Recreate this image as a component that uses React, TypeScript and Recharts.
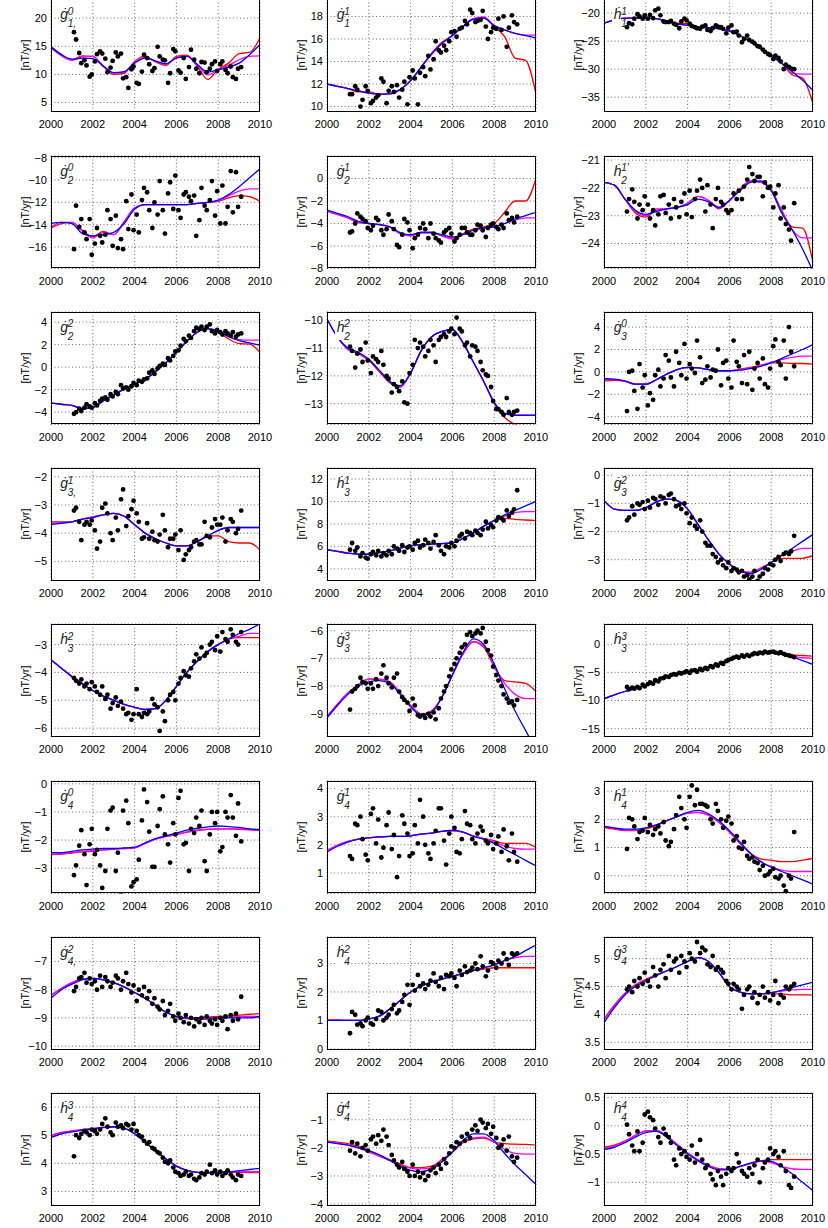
import React from "react";
import { CartesianGrid, ComposedChart, Line, Scatter, XAxis, YAxis } from "recharts";

// observation epochs (shared by every panel) and epochs of the fitted curves
const obsYears = [
  2001.1, 2001.2, 2001.35, 2001.45, 2001.6, 2001.7, 2001.85, 2001.95, 2002.1, 2002.2,
  2002.35, 2002.45, 2002.6, 2002.7, 2002.85, 2002.95, 2003.1, 2003.2, 2003.35, 2003.45,
  2003.6, 2003.7, 2003.85, 2003.95, 2004.1, 2004.2, 2004.35, 2004.45, 2004.6, 2004.7,
  2004.85, 2004.95, 2005.1, 2005.2, 2005.35, 2005.45, 2005.6, 2005.7, 2005.85, 2005.95,
  2006.1, 2006.2, 2006.35, 2006.45, 2006.6, 2006.7, 2006.85, 2006.95, 2007.1, 2007.2,
  2007.35, 2007.45, 2007.6, 2007.7, 2007.85, 2007.95, 2008.1, 2008.2, 2008.35, 2008.45,
  2008.6, 2008.7, 2008.85, 2008.95, 2009.1,
];
const fitYears = [
  2000, 2000.5, 2001, 2001.5, 2002, 2002.5, 2003, 2003.5, 2004, 2004.5, 2005,
  2005.5, 2006, 2006.5, 2007, 2007.5, 2008, 2008.5, 2009, 2009.5, 2010,
];
const yearTicks = [2000, 2002, 2004, 2006, 2008, 2010];

// g1^0
const g10Range = [3.4, 23.4];
const g10Ticks = [5, 10, 15, 20];
const g10Obs = [
  17.5, 16.2, 13.8, 12.0, 12.5, 11.6, 9.6, 10.0, 12.3, 13.6,
  14.1, 13.7, 12.8, 10.4, 11.2, 12.4, 13.9, 13.2, 13.7, 9.3,
  9.5, 7.6, 10.9, 11.4, 8.5, 8.3, 10.5, 13.5, 12.9, 11.8,
  10.6, 11.1, 14.9, 13.2, 12.6, 12.5, 8.5, 10.2, 14.5, 14.1,
  10.7, 10.3, 12.9, 9.2, 11.3, 14.4, 12.6, 11.0, 10.2, 12.2,
  12.1, 10.4, 11.0, 11.8, 12.3, 10.6, 11.8, 12.3, 10.8, 10.2,
  11.4, 9.5, 9.2, 11.0, 11.3,
];
const g10Red = [15.0, 13.5, 12.6, 13.3, 13.2, 11.4, 10.0, 10.2, 12.3, 13.3, 12.2, 11.6, 13.2, 13.4, 11.4, 9.1, 10.9, 12.0, 13.7, 13.9, 16.5];
const g10Magenta = [14.7, 13.3, 12.5, 13.1, 13.2, 11.5, 10.2, 10.4, 12.1, 13.0, 12.3, 11.8, 13.0, 13.3, 11.6, 9.9, 10.8, 11.6, 12.6, 13.2, 13.3];
const g10Blue = [14.8, 13.5, 12.7, 12.9, 12.8, 11.5, 10.3, 10.5, 12.0, 12.9, 12.4, 11.9, 12.9, 13.2, 11.8, 10.4, 10.8, 11.3, 12.0, 13.5, 15.3];

// g1^1
const g11Range = [9.56, 19.55];
const g11Ticks = [10, 12, 14, 16, 18];
const g11Obs = [
  11.1, 11.1, 11.8, 11.5, 10.0, 10.6, 11.8, 11.4, 10.3, 10.5,
  10.8, 11.0, 12.5, 12.2, 10.3, 11.4, 11.8, 11.3, 11.9, 10.8,
  11.5, 12.2, 10.2, 12.6, 13.2, 12.5, 10.2, 13.0, 13.5, 12.7,
  14.5, 13.3, 14.2, 15.8, 15.0, 14.8, 15.4, 15.0, 15.8, 16.6,
  16.7, 16.2, 16.9, 17.0, 17.6, 17.3, 18.6, 18.3, 17.5, 17.6,
  17.7, 18.5, 17.1, 16.0, 16.6, 17.0, 16.9, 17.8, 16.8, 18.0,
  15.3, 17.0, 18.1, 17.5, 17.3,
];
const g11Red = [12.0, 11.8, 11.6, 11.3, 11.3, 11.1, 11.1, 11.5, 12.3, 13.5, 14.7, 15.7, 16.3, 17.1, 17.8, 17.85, 17.1, 16.2, 14.3, 14.1, 11.1];
const g11Magenta = [12.0, 11.8, 11.6, 11.4, 11.2, 11.1, 11.15, 11.5, 12.3, 13.5, 14.6, 15.6, 16.3, 17.1, 17.8, 17.95, 17.2, 16.8, 16.5, 16.35, 16.35];
const g11Blue = [12.0, 11.8, 11.6, 11.4, 11.2, 11.1, 11.15, 11.5, 12.3, 13.5, 14.7, 15.6, 16.3, 17.1, 17.75, 17.85, 17.2, 16.8, 16.5, 16.3, 16.1];

// h1^1
const h11Range = [-37.56, -17.48];
const h11Ticks = [-35, -30, -25, -20];
const h11Obs = [
  -22.5, -21.8, -22.0, -21.0, -20.2, -20.6, -21.0, -20.4, -21.0, -20.3,
  -20.9, -19.5, -19.2, -20.4, -21.5, -21.6, -21.6, -21.4, -21.9, -22.1,
  -22.7, -21.5, -21.0, -21.3, -21.9, -22.3, -22.5, -22.7, -22.8, -22.4,
  -22.2, -23.0, -23.2, -22.7, -22.2, -22.4, -22.5, -22.8, -23.6, -22.6,
  -22.2, -23.4, -23.3, -24.0, -25.2, -24.6, -24.0, -24.8, -25.1, -25.4,
  -25.9, -26.0, -26.5, -26.9, -27.3, -27.5, -28.2, -27.6, -28.0, -28.6,
  -30.0, -29.2, -29.6, -29.9, -30.0,
];
const h11Red = [-21.8, -21.2, -20.9, -20.9, -20.9, -21.0, -21.4, -21.8, -21.9, -22.7, -22.6, -22.8, -23.1, -24.0, -25.1, -26.3, -27.5, -28.9, -31.0, -31.6, -36.2];
const h11Magenta = [-21.8, -21.2, -20.9, -20.9, -20.9, -21.0, -21.5, -21.9, -22.2, -22.5, -22.6, -22.8, -23.2, -24.0, -25.1, -26.3, -27.5, -28.9, -30.7, -30.9, -30.9];
const h11Blue = [-21.8, -21.2, -20.9, -20.9, -20.9, -21.0, -21.5, -21.9, -22.2, -22.5, -22.6, -22.8, -23.2, -24.0, -25.1, -26.3, -27.6, -29.0, -30.4, -32.0, -33.8];

// g2^0
const g20Range = [-17.93, -7.85];
const g20Ticks = [-16, -14, -12, -10, -8];
const g20Obs = [
  -16.2, -12.3, -14.2, -13.5, -14.7, -15.3, -13.5, -16.7, -15.7, -14.3,
  -15.0, -15.6, -14.9, -12.7, -13.5, -15.9, -13.2, -16.1, -15.3, -16.2,
  -11.9, -14.4, -11.3, -14.5, -13.1, -14.7, -11.8, -10.7, -11.1, -12.7,
  -14.3, -12.0, -13.1, -10.1, -12.7, -14.8, -11.2, -10.2, -12.6, -9.6,
  -12.7, -13.4, -11.3, -11.1, -11.5, -11.9, -11.4, -15.0, -13.6, -10.7,
  -12.3, -12.7, -11.8, -10.1, -13.2, -11.0, -13.9, -10.5, -13.9, -12.4,
  -9.2, -12.9, -9.3, -12.4, -11.5,
];
const g20Red = [-14.3, -13.9, -13.8, -14.5, -15.1, -14.6, -14.9, -13.8, -12.6, -12.2, -12.2, -12.2, -12.2, -12.2, -12.1, -12.0, -11.9, -11.6, -11.4, -11.5, -11.9];
const g20Magenta = [-14.2, -13.8, -13.8, -14.6, -15.2, -14.7, -14.9, -13.7, -12.5, -12.2, -12.2, -12.2, -12.2, -12.2, -12.1, -12.0, -11.9, -11.4, -11.0, -10.8, -10.8];
const g20Blue = [-13.9, -13.8, -13.9, -14.8, -15.0, -14.9, -14.7, -13.9, -12.6, -12.2, -12.2, -12.2, -12.2, -12.2, -12.1, -12.0, -11.8, -11.3, -10.6, -9.8, -9.0];

// g2^1
const g21Range = [-8, 2];
const g21Ticks = [-8, -6, -4, -2, 0];
const g21Obs = [
  -4.8, -4.7, -4.0, -3.1, -3.4, -3.6, -3.8, -4.4, -4.6, -4.2,
  -3.5, -3.7, -4.6, -5.0, -4.5, -3.2, -3.8, -4.5, -5.9, -6.1,
  -5.0, -3.6, -3.9, -4.6, -6.2, -5.3, -5.0, -4.4, -4.0, -4.5,
  -5.3, -4.0, -4.9, -5.3, -5.5, -5.7, -4.8, -4.6, -4.4, -4.9,
  -5.6, -5.3, -5.0, -4.4, -4.4, -4.8, -5.0, -5.0, -4.6, -4.1,
  -4.2, -4.6, -5.2, -4.4, -4.1, -4.0, -4.3, -4.5, -4.1, -4.4,
  -3.1, -3.7, -3.5, -3.9, -3.4,
];
const g21Red = [-2.9, -3.2, -3.5, -3.9, -4.0, -4.1, -4.3, -4.9, -5.1, -4.8, -4.8, -5.1, -5.3, -4.9, -4.5, -4.3, -4.0, -3.0, -2.0, -2.0, 0.0];
const g21Magenta = [-2.9, -3.2, -3.5, -3.9, -4.0, -4.1, -4.3, -4.9, -5.1, -4.8, -4.8, -5.1, -5.4, -5.0, -4.6, -4.4, -4.3, -4.0, -3.7, -3.5, -3.5];
const g21Blue = [-2.8, -3.1, -3.4, -3.8, -4.0, -4.1, -4.3, -4.8, -5.0, -4.8, -4.8, -5.0, -5.2, -5.0, -4.6, -4.4, -4.3, -4.0, -3.6, -3.3, -3.0];

// h2^1
const h21Range = [-24.9, -20.85];
const h21Ticks = [-24, -23, -22, -21];
const h21Obs = [
  -22.85, -22.4, -22.05, -22.5, -23.1, -22.6, -22.8, -22.3, -22.6, -23.1,
  -22.8, -23.35, -22.95, -22.3, -22.25, -22.9, -22.6, -23.1, -22.4, -22.7,
  -23.05, -22.5, -22.2, -22.95, -22.1, -23.05, -22.4, -22.1, -21.7, -22.0,
  -22.85, -21.9, -22.6, -23.45, -22.4, -22.0, -22.5, -22.6, -22.8, -22.9,
  -22.8, -22.2, -22.4, -22.1, -22.4, -21.95, -21.7, -21.25, -21.5, -21.75,
  -21.6, -21.6, -22.3, -21.8, -22.0, -21.95, -22.7, -22.2, -21.9, -23.1,
  -22.7, -23.3, -23.5, -23.9, -22.55,
];
const h21Red = [-21.8, -21.9, -22.4, -22.9, -23.05, -22.8, -22.75, -22.7, -22.55, -22.3, -22.45, -22.75, -22.45, -22.05, -21.75, -21.8, -22.05, -22.8, -23.4, -23.45, -24.7];
const h21Magenta = [-21.8, -21.9, -22.4, -22.85, -23.0, -22.75, -22.75, -22.7, -22.55, -22.3, -22.45, -22.7, -22.45, -22.05, -21.75, -21.8, -22.1, -22.85, -23.5, -23.8, -23.8];
const h21Blue = [-21.8, -21.9, -22.4, -22.8, -22.95, -22.85, -22.75, -22.7, -22.6, -22.4, -22.5, -22.7, -22.45, -22.1, -21.8, -21.75, -22.1, -22.9, -23.5, -24.2, -25.0];

// g2^2
const g22Range = [-5.1, 4.9];
const g22Ticks = [-4, -2, 0, 2, 4];
const g22Obs = [
  -4.15, -4.0, -3.7, -3.9, -3.6, -3.3, -3.5, -3.6, -3.2, -3.4,
  -3.0, -2.8, -2.7, -2.9, -2.4, -2.6, -2.2, -2.4, -1.6, -1.9,
  -1.8, -2.0, -1.7, -1.4, -1.6, -1.2, -1.3, -1.1, -1.0, -0.5,
  -0.3, -0.6, -0.1, 0.1, 0.3, 0.2, 0.8, 0.6, 1.0, 1.4,
  1.5, 1.9, 2.5, 2.3, 2.8, 2.6, 3.2, 3.5, 3.4, 3.6,
  3.3, 3.6, 3.8, 3.2, 3.0, 3.3, 3.1, 2.9, 3.2, 3.0,
  2.8, 3.1, 2.7, 2.9, 3.0,
];
const g22Red = [-3.2, -3.3, -3.4, -3.7, -3.6, -3.0, -2.45, -1.95, -1.5, -1.1, -0.4, 0.4, 1.3, 2.3, 3.1, 3.4, 3.1, 2.5, 2.1, 2.05, 1.3];
const g22Magenta = [-3.2, -3.3, -3.4, -3.7, -3.6, -3.0, -2.45, -1.95, -1.5, -1.1, -0.4, 0.4, 1.3, 2.3, 3.1, 3.45, 3.2, 2.7, 2.45, 2.4, 2.4];
const g22Blue = [-3.2, -3.3, -3.4, -3.7, -3.6, -3.0, -2.45, -1.95, -1.5, -1.1, -0.4, 0.4, 1.3, 2.3, 3.1, 3.4, 3.2, 2.7, 2.35, 2.15, 1.95];

// h2^2
const h22Range = [-13.75, -9.7];
const h22Ticks = [-13, -12, -11, -10];
const h22Obs = [
  -10.95, -11.1, -11.7, -11.2, -11.05, -11.5, -10.8, -11.45, -11.9, -11.3,
  -11.4, -11.5, -11.1, -11.6, -12.0, -12.1, -12.6, -12.3, -12.4, -12.55,
  -12.2, -12.95, -13.0, -11.9, -11.6, -10.7, -11.0, -10.8, -10.95, -11.3,
  -11.1, -10.7, -10.9, -11.5, -10.7, -10.6, -10.5, -10.6, -10.4, -10.3,
  -10.5, -9.9, -10.3, -10.4, -10.9, -10.8, -11.3, -10.9, -10.95, -11.1,
  -11.5, -11.8, -11.95, -12.0, -12.4, -12.9, -13.2, -13.2, -13.3, -13.4,
  -12.8, -13.3, -13.4, -13.3, -13.25,
];
const h22Red = [-9.95, -10.6, -11.05, -11.2, -11.45, -11.85, -12.25, -12.4, -11.9, -11.1, -10.6, -10.4, -10.35, -10.8, -11.5, -12.2, -13.0, -13.5, -13.75, -13.85, -13.9];
const h22Magenta = [-9.95, -10.6, -11.05, -11.2, -11.4, -11.8, -12.2, -12.4, -11.9, -11.1, -10.6, -10.4, -10.35, -10.8, -11.5, -12.2, -12.95, -13.35, -13.4, -13.4, -13.4];
const h22Blue = [-9.95, -10.6, -11.0, -11.15, -11.4, -11.8, -12.2, -12.35, -11.9, -11.1, -10.6, -10.4, -10.33, -10.8, -11.5, -12.2, -12.95, -13.35, -13.42, -13.42, -13.42];

// g3^0
const g30Range = [-4.7, 5.35];
const g30Ticks = [-4, -2, 0, 2, 4];
const g30Obs = [
  -3.5, 0.0, 0.1, -1.7, -3.3, 0.7, -1.4, -0.3, -3.0, -1.9,
  -2.5, -0.3, 0.2, -1.3, -0.6, 1.5, 1.0, -0.5, -1.3, 1.8,
  0.8, -0.3, 2.5, -0.6, 0.7, 0.3, -0.1, 2.8, 1.3, -1.0,
  -0.7, 0.5, -0.5, 0.2, 0.1, 2.0, -1.2, 0.8, 1.0, -0.6,
  -1.4, 2.8, 0.9, 0.5, -1.0, 1.5, -1.1, 1.8, -1.6, 0.3,
  0.8, -0.6, 1.2, -1.1, -1.4, 0.3, 2.3, 2.9, 0.9, 0.6,
  2.8, -0.6, 4.0, 1.8, 0.5,
];
const g30Red = [-0.8, -0.75, -0.85, -1.1, -1.1, -0.7, -0.2, 0.2, 0.4, 0.35, 0.2, 0.1, 0.1, 0.25, 0.4, 0.6, 0.8, 0.8, 0.75, 0.75, 0.7];
const g30Magenta = [-0.7, -0.7, -0.85, -1.1, -1.1, -0.7, -0.2, 0.2, 0.4, 0.35, 0.2, 0.1, 0.1, 0.2, 0.35, 0.55, 0.85, 1.1, 1.3, 1.4, 1.4];
const g30Blue = [-0.6, -0.65, -0.8, -1.1, -1.1, -0.7, -0.2, 0.2, 0.4, 0.35, 0.2, 0.1, 0.1, 0.15, 0.3, 0.5, 0.8, 1.2, 1.6, 2.0, 2.45];

// g3^1
const g31Range = [-5.68, -1.69];
const g31Ticks = [-5, -4, -3, -2];
const g31Obs = [
  -3.2, -3.1, -3.6, -4.25, -3.7, -3.6, -3.7, -3.55, -3.9, -4.55,
  -4.3, -3.1, -2.95, -3.3, -4.0, -4.25, -3.45, -3.9, -2.8, -2.45,
  -3.75, -3.4, -3.15, -2.85, -3.3, -3.6, -4.2, -4.15, -3.65, -4.2,
  -3.95, -4.25, -4.3, -4.05, -3.35, -3.9, -4.5, -4.2, -4.2, -4.05,
  -4.6, -3.9, -4.95, -4.75, -4.6, -4.5, -4.3, -4.25, -4.4, -4.4,
  -3.6, -4.1, -4.15, -3.8, -3.5, -3.7, -3.7, -3.45, -4.3, -3.9,
  -3.5, -3.6, -4.0, -3.85, -3.2,
];
const g31Red = [-3.6, -3.6, -3.6, -3.5, -3.42, -3.35, -3.3, -3.4, -3.7, -4.0, -4.2, -4.35, -4.45, -4.45, -4.3, -4.1, -4.1, -4.3, -4.35, -4.35, -4.6];
const g31Magenta = [-3.65, -3.63, -3.6, -3.5, -3.42, -3.35, -3.3, -3.4, -3.7, -4.0, -4.2, -4.35, -4.45, -4.45, -4.3, -4.1, -3.9, -3.8, -3.8, -3.8, -3.8];
const g31Blue = [-3.7, -3.65, -3.6, -3.5, -3.45, -3.35, -3.3, -3.4, -3.7, -4.0, -4.2, -4.35, -4.45, -4.45, -4.3, -4.1, -3.9, -3.8, -3.8, -3.8, -3.8];

// h3^1
const h31Range = [2.96, 12.98];
const h31Ticks = [4, 6, 8, 10, 12];
const h31Obs = [
  5.7, 6.3, 5.6, 5.9, 5.1, 5.4, 5.0, 4.9, 5.3, 5.5,
  5.2, 5.6, 5.1, 5.4, 5.2, 5.6, 5.3, 6.0, 5.8, 5.6,
  6.1, 5.5, 5.9, 6.0, 5.7, 6.3, 6.5, 5.9, 6.1, 6.6,
  6.3, 5.8, 6.4, 7.0, 6.1, 5.6, 5.3, 6.0, 5.9, 6.3,
  6.0, 6.5, 6.9, 7.1, 6.7, 7.3, 7.2, 7.0, 7.4, 7.2,
  7.0, 7.5, 8.2, 7.6, 7.9, 7.7, 8.3, 8.6, 8.5, 8.3,
  9.2, 8.7, 9.0, 9.3, 11.0,
];
const h31Red = [5.7, 5.55, 5.4, 5.3, 5.3, 5.45, 5.6, 5.85, 6.05, 6.15, 6.2, 6.25, 6.3, 6.7, 7.2, 7.8, 8.3, 8.5, 8.4, 8.35, 8.3];
const h31Magenta = [5.7, 5.55, 5.4, 5.3, 5.3, 5.45, 5.6, 5.85, 6.05, 6.15, 6.2, 6.25, 6.3, 6.7, 7.2, 7.8, 8.3, 8.7, 9.0, 9.1, 9.1];
const h31Blue = [5.7, 5.55, 5.4, 5.3, 5.3, 5.45, 5.6, 5.85, 6.05, 6.15, 6.2, 6.25, 6.3, 6.7, 7.2, 7.8, 8.3, 8.8, 9.2, 9.6, 10.0];

// g3^2
const g32Range = [-3.74, 0.26];
const g32Ticks = [-3, -2, -1, 0];
const g32Obs = [
  -1.6, -1.5, -1.1, -1.4, -1.0, -1.05, -0.95, -1.2, -0.9, -1.15,
  -0.8, -0.85, -1.05, -0.75, -0.8, -1.0, -0.7, -0.65, -0.85, -1.1,
  -1.05, -1.2, -1.0, -1.35, -1.7, -1.5, -1.8, -1.9, -1.6, -2.0,
  -2.4, -2.5, -2.5, -2.8, -2.9, -3.1, -3.0, -3.2, -3.3, -3.1,
  -3.4, -3.3, -3.35, -3.45, -3.4, -3.6, -3.55, -3.7, -3.6, -3.4,
  -3.75, -3.6, -3.5, -3.3, -3.35, -3.15, -3.2, -3.0, -2.9, -3.05,
  -2.8, -2.75, -2.8, -2.7, -2.15,
];
const g32Red = [-0.9, -1.2, -1.25, -1.25, -1.15, -0.95, -0.85, -0.9, -1.2, -1.75, -2.3, -2.8, -3.15, -3.4, -3.45, -3.3, -3.1, -2.95, -2.95, -2.95, -2.85];
const g32Magenta = [-0.9, -1.2, -1.25, -1.25, -1.15, -0.95, -0.85, -0.9, -1.2, -1.75, -2.3, -2.8, -3.15, -3.4, -3.45, -3.3, -3.1, -2.85, -2.7, -2.6, -2.6];
const g32Blue = [-0.9, -1.2, -1.25, -1.25, -1.15, -0.95, -0.85, -0.9, -1.2, -1.75, -2.3, -2.8, -3.15, -3.4, -3.5, -3.35, -3.1, -2.85, -2.6, -2.35, -2.1];

// h3^2
const h32Range = [-6.3, -2.26];
const h32Ticks = [-6, -5, -4, -3];
const h32Obs = [
  -4.2, -4.3, -4.4, -4.25, -4.5, -4.4, -4.6, -4.35, -4.5, -4.7,
  -4.8, -4.5, -4.95, -4.8, -5.3, -5.1, -4.9, -5.2, -5.05, -5.3,
  -5.5, -5.45, -5.7, -5.5, -4.6, -5.5, -5.6, -5.45, -5.5, -5.4,
  -4.95, -5.15, -5.25, -6.1, -5.4, -5.75, -5.0, -4.8, -4.7, -5.0,
  -4.4, -4.2, -3.95, -4.1, -4.15, -3.85, -3.6, -3.35, -3.5, -3.1,
  -3.4, -3.3, -3.0, -2.9, -3.2, -2.7, -3.25, -2.55, -2.8, -2.9,
  -2.45, -2.65, -2.9, -3.0, -2.55,
];
const h32Red = [-3.55, -3.85, -4.15, -4.4, -4.65, -4.85, -5.0, -5.15, -5.25, -5.33, -5.3, -5.0, -4.5, -4.0, -3.6, -3.25, -3.0, -2.8, -2.75, -2.75, -2.75];
const h32Magenta = [-3.55, -3.85, -4.15, -4.4, -4.65, -4.85, -5.0, -5.15, -5.25, -5.33, -5.3, -5.0, -4.5, -4.0, -3.6, -3.25, -3.0, -2.8, -2.7, -2.6, -2.6];
const h32Blue = [-3.55, -3.85, -4.15, -4.4, -4.65, -4.85, -5.0, -5.15, -5.25, -5.33, -5.3, -5.0, -4.5, -4.0, -3.6, -3.25, -3.0, -2.8, -2.6, -2.45, -2.25];

// g3^3
const g33Range = [-9.82, -5.76];
const g33Ticks = [-9, -8, -7, -6];
const g33Obs = [
  -8.85, -8.2, -8.1, -8.0, -7.7, -7.85, -7.9, -8.1, -7.9, -8.1,
  -7.75, -8.0, -7.55, -7.25, -7.7, -7.9, -8.05, -7.7, -7.55, -8.2,
  -8.4, -8.5, -8.6, -8.9, -8.45, -8.7, -9.05, -9.1, -9.05, -9.15,
  -9.0, -9.1, -8.95, -9.2, -8.8, -8.45, -8.2, -8.0, -7.65, -7.4,
  -7.2, -7.0, -6.8, -6.6, -6.5, -6.15, -6.05, -6.2, -6.1, -6.0,
  -6.1, -5.9, -6.4, -6.7, -6.9, -7.3, -7.6, -7.8, -8.0, -8.3,
  -8.45, -8.6, -8.55, -8.7, -8.5,
];
const g33Red = [-9.1, -8.65, -8.25, -7.95, -7.75, -7.75, -7.85, -8.25, -8.7, -9.0, -8.9, -8.4, -7.6, -6.85, -6.4, -6.6, -7.3, -7.8, -7.85, -7.9, -8.2];
const g33Magenta = [-9.1, -8.65, -8.25, -7.95, -7.75, -7.75, -7.85, -8.25, -8.7, -9.0, -8.9, -8.4, -7.6, -6.85, -6.4, -6.55, -7.3, -7.9, -8.3, -8.45, -8.45];
const g33Blue = [-9.15, -8.7, -8.3, -8.0, -7.85, -7.8, -7.9, -8.3, -8.75, -9.05, -8.95, -8.4, -7.6, -6.8, -6.3, -6.5, -7.2, -8.1, -8.9, -9.6, -10.3];

// h3^3
const h33Range = [-16.4, 3.6];
const h33Ticks = [-15, -10, -5, 0];
const h33Obs = [
  -7.6, -8.0, -7.7, -7.9, -7.6, -7.8, -7.2, -7.5, -7.1, -6.8,
  -7.0, -6.4, -6.6, -6.1, -6.0, -5.7, -5.8, -5.5, -5.3, -5.4,
  -5.1, -5.2, -5.0, -4.8, -5.1, -4.7, -4.6, -4.9, -4.4, -4.6,
  -4.2, -4.4, -3.9, -4.1, -3.6, -3.8, -3.3, -3.5, -3.0, -2.8,
  -2.6, -2.4, -2.2, -2.4, -2.0, -2.2, -1.9, -2.1, -1.8, -1.6,
  -1.7, -1.5, -1.6, -1.3, -1.5, -1.4, -1.3, -1.5, -1.6, -1.4,
  -1.7, -1.9, -2.0, -2.1, -2.3,
];
const h33Red = [-9.7, -9.0, -8.4, -7.9, -7.3, -6.6, -5.9, -5.3, -4.9, -4.5, -4.0, -3.4, -2.7, -2.2, -1.9, -1.6, -1.5, -1.7, -1.9, -2.0, -2.1];
const h33Magenta = [-9.7, -9.0, -8.4, -7.9, -7.3, -6.6, -5.9, -5.3, -4.9, -4.5, -4.0, -3.4, -2.7, -2.2, -1.9, -1.6, -1.5, -1.7, -2.1, -2.4, -2.5];
const h33Blue = [-9.7, -9.0, -8.4, -7.9, -7.3, -6.6, -5.9, -5.3, -4.9, -4.5, -4.0, -3.4, -2.7, -2.2, -1.9, -1.6, -1.5, -1.8, -2.3, -2.9, -3.6];

// g4^0
const g40Range = [-3.9, 0.1];
const g40Ticks = [-3, -2, -1, 0];
const g40Obs = [
  -3.25, -2.9, -2.2, -1.65, -2.5, -3.6, -2.15, -1.6, -2.5, -2.35,
  -2.9, -3.7, -3.1, -1.6, -0.95, -0.85, -3.1, -2.45, -3.95, -0.95,
  -0.6, -1.4, -3.65, -3.5, -3.4, -2.7, -1.3, -0.2, -0.65, -1.7,
  -2.95, -2.95, -1.5, -0.9, -0.45, -1.8, -2.15, -2.8, -1.4, -1.8,
  -0.5, -0.25, -2.15, -2.1, -3.1, -1.6, -1.75, -1.2, -1.5, -0.95,
  -2.75, -3.1, -1.8, -1.0, -1.4, -1.0, -2.4, -2.25, -1.0, -1.2,
  -0.4, -1.2, -1.85, -0.7, -2.05,
];
const g40Red = [-2.52, -2.5, -2.46, -2.42, -2.4, -2.35, -2.32, -2.3, -2.28, -2.12, -1.97, -1.87, -1.8, -1.72, -1.66, -1.62, -1.6, -1.6, -1.62, -1.64, -1.66];
const g40Magenta = [-2.5, -2.48, -2.45, -2.4, -2.38, -2.35, -2.32, -2.3, -2.28, -2.12, -1.97, -1.87, -1.8, -1.72, -1.65, -1.62, -1.6, -1.6, -1.6, -1.62, -1.65];
const g40Blue = [-2.45, -2.45, -2.4, -2.35, -2.32, -2.3, -2.3, -2.28, -2.25, -2.1, -1.95, -1.85, -1.75, -1.65, -1.58, -1.53, -1.5, -1.52, -1.55, -1.6, -1.62];

// g4^1
const g41Range = [0.27, 4.27];
const g41Ticks = [1, 2, 3, 4];
const g41Obs = [
  1.6, 1.5, 2.75, 2.7, 3.0, 2.2, 1.65, 1.45, 3.1, 3.3,
  2.05, 2.9, 1.55, 1.9, 2.7, 3.15, 1.85, 2.35, 0.85, 1.6,
  3.05, 2.75, 2.4, 1.6, 1.7, 2.7, 2.05, 3.6, 3.0, 2.0,
  1.7, 1.5, 2.05, 2.5, 3.3, 3.3, 2.15, 1.3, 2.4, 3.0,
  2.6, 1.75, 1.7, 2.2, 3.2, 2.75, 2.7, 2.2, 2.05, 2.4,
  2.65, 2.5, 2.15, 2.05, 2.35, 1.85, 2.05, 2.3, 1.75, 2.55,
  1.95, 1.45, 2.4, 1.75, 1.4,
];
const g41Red = [1.8, 1.98, 2.12, 2.2, 2.25, 2.28, 2.3, 2.3, 2.32, 2.38, 2.42, 2.48, 2.5, 2.45, 2.32, 2.22, 2.15, 2.05, 2.05, 2.05, 1.9];
const g41Magenta = [1.8, 1.98, 2.12, 2.2, 2.25, 2.28, 2.3, 2.3, 2.32, 2.38, 2.42, 2.48, 2.5, 2.45, 2.32, 2.22, 2.1, 1.95, 1.87, 1.85, 1.85];
const g41Blue = [1.75, 1.95, 2.1, 2.2, 2.25, 2.28, 2.3, 2.3, 2.32, 2.38, 2.42, 2.48, 2.52, 2.45, 2.3, 2.2, 2.05, 1.85, 1.65, 1.45, 1.25];

// h4^1
const h41Range = [-0.63, 3.36];
const h41Ticks = [0, 1, 2, 3];
const h41Obs = [
  0.95, 2.05, 2.0, 1.75, 1.3, 1.55, 1.6, 2.05, 1.55, 1.8,
  1.45, 1.65, 1.75, 1.5, 1.9, 1.25, 1.05, 1.2, 1.65, 2.15,
  2.8, 2.4, 2.0, 1.7, 2.8, 3.2, 2.5, 3.05, 2.55, 2.55,
  2.5, 2.45, 2.0, 1.85, 2.55, 2.3, 2.0, 1.7, 1.95, 2.1,
  1.85, 1.25, 1.4, 1.0, 0.95, 1.2, 0.7, 0.6, 0.65, 0.5,
  0.45, 0.2, 0.35, 0.0, 0.05, 0.15, 0.25, -0.05, -0.1, 0.0,
  -0.35, -0.55, 0.0, -0.1, 1.55,
];
const h41Red = [1.72, 1.65, 1.6, 1.6, 1.66, 1.78, 1.95, 2.1, 2.22, 2.25, 2.15, 1.9, 1.55, 1.15, 0.8, 0.6, 0.55, 0.5, 0.5, 0.55, 0.62];
const h41Magenta = [1.75, 1.68, 1.62, 1.62, 1.68, 1.8, 1.95, 2.1, 2.22, 2.25, 2.15, 1.9, 1.55, 1.15, 0.8, 0.5, 0.32, 0.2, 0.15, 0.15, 0.15];
const h41Blue = [1.75, 1.7, 1.65, 1.65, 1.7, 1.8, 1.95, 2.1, 2.25, 2.32, 2.2, 1.95, 1.6, 1.2, 0.8, 0.5, 0.3, 0.15, 0.0, -0.15, -0.3];

// g4^2
const g42Range = [-10.12, -6.13];
const g42Ticks = [-10, -9, -8, -7];
const g42Obs = [
  -8.05, -7.9, -7.6, -7.55, -7.4, -7.75, -7.6, -7.8, -7.7, -8.0,
  -7.5, -7.9, -7.55, -7.7, -7.9, -7.75, -7.5, -7.6, -8.0, -7.7,
  -7.4, -7.8, -8.1, -7.85, -8.4, -8.0, -8.2, -7.9, -8.3, -8.05,
  -8.5, -8.3, -8.6, -8.7, -8.4, -8.9, -8.75, -8.5, -8.95, -9.1,
  -8.85, -9.0, -9.15, -8.9, -9.2, -9.0, -9.3, -9.05, -9.15, -9.0,
  -9.25, -8.95, -9.1, -9.2, -9.05, -9.25, -9.0, -9.1, -8.95, -9.4,
  -8.9, -9.1, -8.85, -9.05, -8.25,
];
const g42Red = [-8.2, -7.95, -7.75, -7.62, -7.6, -7.65, -7.75, -7.9, -8.1, -8.3, -8.55, -8.8, -8.95, -9.02, -9.0, -8.97, -8.95, -8.93, -8.9, -8.87, -8.85];
const g42Magenta = [-8.2, -7.95, -7.75, -7.62, -7.6, -7.65, -7.75, -7.9, -8.1, -8.3, -8.55, -8.8, -8.95, -9.02, -9.05, -9.05, -9.0, -8.97, -8.95, -8.95, -8.95];
const g42Blue = [-8.3, -8.0, -7.8, -7.65, -7.6, -7.65, -7.75, -7.9, -8.1, -8.3, -8.55, -8.8, -8.95, -9.0, -9.0, -9.0, -9.0, -9.0, -9.0, -9.0, -8.95];

// h4^2
const h42Range = [-0.02, 3.93];
const h42Ticks = [0, 1, 2, 3];
const h42Obs = [
  0.55, 1.3, 1.2, 0.85, 0.9, 0.8, 1.0, 1.1, 0.9, 0.85,
  1.05, 1.35, 1.3, 1.0, 1.1, 1.2, 1.4, 1.55, 1.25, 1.35,
  1.65, 1.9, 2.25, 1.55, 2.25, 2.05, 2.6, 2.2, 2.3, 2.1,
  2.25, 2.4, 2.65, 2.35, 2.2, 2.5, 2.1, 2.6, 2.55, 2.65,
  2.5, 2.2, 2.75, 2.6, 2.9, 2.7, 2.75, 2.85, 3.0, 2.8,
  3.25, 2.9, 2.55, 2.75, 3.05, 3.0, 2.85, 3.1, 3.0, 3.35,
  3.15, 2.95, 3.35, 3.3, 3.35,
];
const h42Red = [1.02, 1.02, 1.0, 1.0, 1.05, 1.15, 1.4, 1.7, 2.0, 2.2, 2.35, 2.45, 2.55, 2.65, 2.75, 2.8, 2.85, 2.85, 2.85, 2.85, 2.85];
const h42Magenta = [1.0, 1.0, 1.0, 1.0, 1.05, 1.15, 1.4, 1.7, 2.0, 2.2, 2.35, 2.45, 2.55, 2.65, 2.75, 2.85, 2.95, 3.1, 3.2, 3.25, 3.25];
const h42Blue = [1.0, 1.0, 1.0, 1.0, 1.05, 1.15, 1.4, 1.7, 2.0, 2.2, 2.35, 2.45, 2.55, 2.65, 2.75, 2.85, 2.95, 3.1, 3.25, 3.45, 3.65];

// g4^3
const g43Range = [3.37, 5.39];
const g43Ticks = [3.5, 4, 4.5, 5];
const g43Obs = [
  4.45, 4.5, 4.4, 4.6, 4.5, 4.65, 4.55, 4.75, 4.6, 4.5,
  4.85, 4.7, 4.5, 4.8, 4.9, 4.65, 5.05, 4.8, 4.95, 5.0,
  4.75, 5.05, 4.95, 4.85, 5.1, 5.0, 4.95, 5.3, 5.1, 5.2,
  5.15, 4.9, 4.85, 5.05, 4.8, 4.85, 4.8, 4.75, 4.6, 4.55,
  4.45, 4.55, 4.5, 4.45, 4.1, 4.35, 4.45, 4.5, 4.3, 4.4,
  4.2, 4.35, 4.5, 4.3, 4.4, 4.25, 4.35, 4.6, 4.2, 4.35,
  4.3, 4.5, 4.45, 4.5, 4.55,
];
const g43Red = [3.92, 4.17, 4.38, 4.53, 4.63, 4.71, 4.78, 4.86, 4.95, 5.02, 4.95, 4.75, 4.5, 4.4, 4.37, 4.37, 4.37, 4.37, 4.35, 4.35, 4.35];
const g43Magenta = [3.9, 4.15, 4.37, 4.52, 4.62, 4.7, 4.78, 4.86, 4.95, 5.02, 4.95, 4.75, 4.5, 4.4, 4.37, 4.37, 4.39, 4.42, 4.44, 4.45, 4.45];
const g43Blue = [3.85, 4.12, 4.35, 4.5, 4.6, 4.7, 4.78, 4.86, 4.95, 5.02, 4.95, 4.75, 4.5, 4.4, 4.37, 4.37, 4.39, 4.43, 4.48, 4.53, 4.58];

// h4^3
const h43Range = [2.5, 6.5];
const h43Ticks = [3, 4, 5, 6];
const h43Obs = [
  4.25, 5.0, 4.9, 5.05, 5.15, 5.1, 5.0, 5.2, 5.15, 5.05,
  5.2, 5.4, 5.6, 5.3, 5.1, 5.0, 5.45, 5.3, 5.35, 5.25,
  5.4, 5.35, 5.2, 5.4, 5.15, 5.0, 4.95, 4.8, 4.7, 4.75,
  4.55, 4.5, 4.4, 4.35, 4.2, 4.05, 4.0, 4.1, 3.85, 3.7,
  3.65, 3.55, 3.6, 3.7, 3.55, 3.6, 3.45, 3.4, 3.5, 3.65,
  3.6, 3.7, 3.95, 3.65, 3.75, 3.6, 3.7, 3.55, 3.65, 3.75,
  3.6, 3.5, 3.4, 3.6, 3.55,
];
const h43Red = [5.0, 5.1, 5.15, 5.2, 5.24, 5.28, 5.3, 5.25, 5.05, 4.75, 4.45, 4.15, 3.9, 3.75, 3.68, 3.66, 3.67, 3.68, 3.68, 3.67, 3.67];
const h43Magenta = [4.98, 5.08, 5.14, 5.2, 5.24, 5.28, 5.3, 5.25, 5.05, 4.75, 4.45, 4.15, 3.9, 3.75, 3.68, 3.67, 3.68, 3.69, 3.7, 3.7, 3.7];
const h43Blue = [4.92, 5.05, 5.12, 5.18, 5.22, 5.27, 5.3, 5.25, 5.05, 4.75, 4.45, 4.15, 3.9, 3.75, 3.68, 3.67, 3.68, 3.7, 3.74, 3.78, 3.82];

// g4^4
const g44Range = [-4.05, -0.05];
const g44Ticks = [-4, -3, -2, -1];
const g44Obs = [
  -2.1, -1.8, -2.2, -1.85, -2.3, -2.0, -1.9, -2.1, -1.7, -1.6,
  -1.85, -1.55, -1.75, -1.35, -1.6, -1.9, -2.25, -2.45, -2.6, -2.7,
  -2.5, -2.75, -2.85, -3.0, -2.6, -3.0, -2.85, -3.05, -2.9, -3.15,
  -3.0, -2.8, -2.7, -2.9, -2.6, -2.75, -2.4, -2.55, -2.2, -1.95,
  -2.0, -1.8, -1.85, -1.6, -1.75, -1.5, -1.65, -1.35, -1.2, -1.4,
  -1.0, -1.1, -1.3, -1.15, -1.5, -1.25, -1.65, -2.0, -1.9, -1.7,
  -2.1, -1.6, -2.3, -2.5, -2.35,
];
const g44Red = [-1.75, -1.8, -1.85, -1.95, -2.1, -2.25, -2.42, -2.58, -2.7, -2.7, -2.65, -2.42, -2.15, -1.82, -1.68, -1.65, -1.8, -1.85, -1.87, -1.88, -1.9];
const g44Magenta = [-1.78, -1.83, -1.9, -2.0, -2.15, -2.3, -2.45, -2.62, -2.72, -2.75, -2.7, -2.45, -2.15, -1.8, -1.65, -1.62, -1.8, -2.05, -2.2, -2.22, -2.22];
const g44Blue = [-1.8, -1.85, -1.9, -2.0, -2.1, -2.25, -2.45, -2.65, -2.8, -2.85, -2.75, -2.5, -2.15, -1.75, -1.5, -1.5, -1.75, -2.2, -2.6, -2.95, -3.3];

// h4^4
const h44Range = [-1.41, 0.58];
const h44Ticks = [-1, -0.5, 0, 0.5];
const h44Obs = [
  0.02, -0.15, -0.35, -0.45, -0.1, -0.45, -0.3, 0.2, 0.25, 0.15,
  0.1, -0.05, -0.2, -0.3, -0.05, -0.15, -0.2, -0.3, -0.6, -0.7,
  -0.4, -0.5, -0.45, -0.55, -0.6, -0.35, -0.65, -0.5, -0.25, -0.6,
  -0.75, -0.7, -0.85, -0.95, -1.05, -0.8, -0.9, -1.05, -0.85, -0.75,
  -0.8, -0.75, -0.5, -0.65, -0.8, -0.85, -0.9, -0.75, -0.85, -0.7,
  -0.6, -1.0, -0.75, -0.65, -0.6, -0.4, -0.5, -0.45, -0.55, -0.7,
  -0.45, -0.8, -1.05, -1.1, -0.9,
];
const h44Red = [-0.38, -0.34, -0.27, -0.17, -0.09, -0.08, -0.18, -0.33, -0.48, -0.6, -0.7, -0.76, -0.77, -0.72, -0.67, -0.62, -0.6, -0.6, -0.6, -0.6, -0.6];
const h44Magenta = [-0.4, -0.36, -0.28, -0.17, -0.09, -0.08, -0.18, -0.33, -0.48, -0.6, -0.7, -0.76, -0.77, -0.72, -0.67, -0.63, -0.65, -0.72, -0.76, -0.77, -0.77];
const h44Blue = [-0.42, -0.38, -0.3, -0.2, -0.12, -0.1, -0.2, -0.35, -0.5, -0.62, -0.72, -0.78, -0.78, -0.72, -0.66, -0.62, -0.63, -0.72, -0.85, -1.0, -1.15];

type Panel = {
  letter: string;
  n: string;
  m: string;
  obs: number[];
  red: number[];
  magenta: number[];
  blue: number[];
  range: number[];
  ticks: number[];
};

const G = "\u0121"; // g with dot above
const H = "\u1E23"; // h with dot above

const panels: Panel[] = [
  { letter: G, n: "1,", m: "0", obs: g10Obs, red: g10Red, magenta: g10Magenta, blue: g10Blue, range: g10Range, ticks: g10Ticks },
  { letter: G, n: "1", m: "1", obs: g11Obs, red: g11Red, magenta: g11Magenta, blue: g11Blue, range: g11Range, ticks: g11Ticks },
  { letter: H, n: "1", m: "1", obs: h11Obs, red: h11Red, magenta: h11Magenta, blue: h11Blue, range: h11Range, ticks: h11Ticks },
  { letter: G, n: "2", m: "0", obs: g20Obs, red: g20Red, magenta: g20Magenta, blue: g20Blue, range: g20Range, ticks: g20Ticks },
  { letter: G, n: "2", m: "1", obs: g21Obs, red: g21Red, magenta: g21Magenta, blue: g21Blue, range: g21Range, ticks: g21Ticks },
  { letter: H, n: "2", m: "1'", obs: h21Obs, red: h21Red, magenta: h21Magenta, blue: h21Blue, range: h21Range, ticks: h21Ticks },
  { letter: G, n: "2", m: "2", obs: g22Obs, red: g22Red, magenta: g22Magenta, blue: g22Blue, range: g22Range, ticks: g22Ticks },
  { letter: H, n: "2", m: "2", obs: h22Obs, red: h22Red, magenta: h22Magenta, blue: h22Blue, range: h22Range, ticks: h22Ticks },
  { letter: G, n: "3", m: "0", obs: g30Obs, red: g30Red, magenta: g30Magenta, blue: g30Blue, range: g30Range, ticks: g30Ticks },
  { letter: G, n: "3,", m: "1", obs: g31Obs, red: g31Red, magenta: g31Magenta, blue: g31Blue, range: g31Range, ticks: g31Ticks },
  { letter: H, n: "3", m: "1", obs: h31Obs, red: h31Red, magenta: h31Magenta, blue: h31Blue, range: h31Range, ticks: h31Ticks },
  { letter: G, n: "3", m: "2", obs: g32Obs, red: g32Red, magenta: g32Magenta, blue: g32Blue, range: g32Range, ticks: g32Ticks },
  { letter: H, n: "3", m: "2", obs: h32Obs, red: h32Red, magenta: h32Magenta, blue: h32Blue, range: h32Range, ticks: h32Ticks },
  { letter: G, n: "3", m: "3", obs: g33Obs, red: g33Red, magenta: g33Magenta, blue: g33Blue, range: g33Range, ticks: g33Ticks },
  { letter: H, n: "3", m: "3", obs: h33Obs, red: h33Red, magenta: h33Magenta, blue: h33Blue, range: h33Range, ticks: h33Ticks },
  { letter: G, n: "4", m: "0", obs: g40Obs, red: g40Red, magenta: g40Magenta, blue: g40Blue, range: g40Range, ticks: g40Ticks },
  { letter: G, n: "4", m: "1", obs: g41Obs, red: g41Red, magenta: g41Magenta, blue: g41Blue, range: g41Range, ticks: g41Ticks },
  { letter: H, n: "4", m: "1", obs: h41Obs, red: h41Red, magenta: h41Magenta, blue: h41Blue, range: h41Range, ticks: h41Ticks },
  { letter: G, n: "4,", m: "2", obs: g42Obs, red: g42Red, magenta: g42Magenta, blue: g42Blue, range: g42Range, ticks: g42Ticks },
  { letter: H, n: "4", m: "2", obs: h42Obs, red: h42Red, magenta: h42Magenta, blue: h42Blue, range: h42Range, ticks: h42Ticks },
  { letter: G, n: "4", m: "3", obs: g43Obs, red: g43Red, magenta: g43Magenta, blue: g43Blue, range: g43Range, ticks: g43Ticks },
  { letter: H, n: "4", m: "3", obs: h43Obs, red: h43Red, magenta: h43Magenta, blue: h43Blue, range: h43Range, ticks: h43Ticks },
  { letter: G, n: "4", m: "4", obs: g44Obs, red: g44Red, magenta: g44Magenta, blue: g44Blue, range: g44Range, ticks: g44Ticks },
  { letter: H, n: "4", m: "4", obs: h44Obs, red: h44Red, magenta: h44Magenta, blue: h44Blue, range: h44Range, ticks: h44Ticks },
];

const FONT = "'Liberation Sans', Arial, Helvetica, sans-serif";
const PLOT_LEFT = [50.7, 327.3, 604.3];
const PLOT_W = 209;
const PLOT_H = 112.5;
const FIRST_TOP = -0.8;
const ROW_STEP = 156.3;
const AXIS_W = 50;
const TOP_PAD = 6;
const RIGHT_PAD = 22;
const X_AXIS_H = 26;

const tickStyle = { fontSize: 11, fill: "#000", fontFamily: FONT };

function toPoints(xs: number[], ys: number[]) {
  return xs.map((x, i) => ({ x, y: ys[i] })).filter((p) => p.y !== undefined);
}

const minusFmt = (v: number) => String(v).replace("-", "\u2212");

const Dot = (props: any) => <circle cx={props.cx} cy={props.cy} r={2.4} fill="#000" />;

function CoefficientPanel({ p, index }: { p: Panel; index: number }) {
  const left = PLOT_LEFT[index % 3];
  const top = FIRST_TOP + Math.floor(index / 3) * ROW_STEP;
  const fits = [
    { key: "red", color: "#ff0000", values: p.red },
    { key: "magenta", color: "#ff00ff", values: p.magenta },
    { key: "blue", color: "#0000ff", values: p.blue },
  ];

  return (
    <>
      <div style={{ position: "absolute", left: left - AXIS_W, top: top - TOP_PAD }}>
        <ComposedChart
          width={AXIS_W + PLOT_W + RIGHT_PAD}
          height={TOP_PAD + PLOT_H + X_AXIS_H}
          margin={{ top: TOP_PAD, right: RIGHT_PAD, bottom: 0, left: 0 }}
        >
          <CartesianGrid stroke="#444" strokeDasharray="1 2.5" strokeWidth={0.8} />
          <XAxis
            type="number"
            dataKey="x"
            domain={[2000, 2010]}
            ticks={yearTicks}
            interval={0}
            allowDataOverflow
            axisLine={false}
            tickLine={false}
            tickSize={6}
            tickMargin={3}
            height={X_AXIS_H}
            tick={tickStyle}
          />
          <YAxis
            type="number"
            dataKey="y"
            domain={p.range}
            ticks={p.ticks}
            interval={0}
            allowDataOverflow
            axisLine={false}
            tickLine={false}
            tickSize={2}
            tickMargin={2}
            width={AXIS_W}
            tickFormatter={minusFmt}
            tick={tickStyle}
          />
          <Scatter data={toPoints(obsYears, p.obs)} dataKey="y" shape={Dot} isAnimationActive={false} />
          {fits.map((f) => (
            <Line
              key={f.key}
              data={toPoints(fitYears, f.values)}
              dataKey="y"
              type="monotone"
              stroke={f.color}
              strokeWidth={1.3}
              dot={false}
              activeDot={false}
              isAnimationActive={false}
            />
          ))}
        </ComposedChart>
      </div>
      {/* axes box */}
      <div
        style={{
          position: "absolute",
          left,
          top,
          width: PLOT_W,
          height: PLOT_H,
          border: "1px solid #000",
          boxSizing: "border-box",
          pointerEvents: "none",
        }}
      />
      {/* y label */}
      <div
        style={{
          position: "absolute",
          left: left - 26,
          top: top + PLOT_H / 2,
          transform: "translate(-50%, -50%) rotate(-90deg)",
          fontSize: 11,
          whiteSpace: "nowrap",
          color: "#000",
        }}
      >
        [nT/yr]
      </div>
      {/* coefficient name */}
      <div style={{ position: "absolute", left: left + 8, top: top + 4, width: 9, height: 24, background: "#fff" }} />
      <div style={{ position: "absolute", left: left + 9.5, top: top + 7, fontSize: 14, lineHeight: "16px", fontStyle: "italic", color: "#222" }}>
        {p.letter}
      </div>
      <div style={{ position: "absolute", left: left + 17, top: top + 7.5, fontSize: 10, lineHeight: "10px", fontStyle: "italic", color: "#222" }}>
        {p.m}
      </div>
      <div style={{ position: "absolute", left: left + 17, top: top + 20, fontSize: 10, lineHeight: "10px", fontStyle: "italic", color: "#222" }}>
        {p.n}
      </div>
    </>
  );
}

export default function App() {
  return (
    <div
      style={{
        position: "absolute",
        left: 0,
        top: 0,
        width: 828,
        height: 1228,
        overflow: "hidden",
        background: "#fff",
        fontFamily: FONT,
      }}
    >
      {panels.map((p, i) => (
        <CoefficientPanel key={i} p={p} index={i} />
      ))}
    </div>
  );
}
